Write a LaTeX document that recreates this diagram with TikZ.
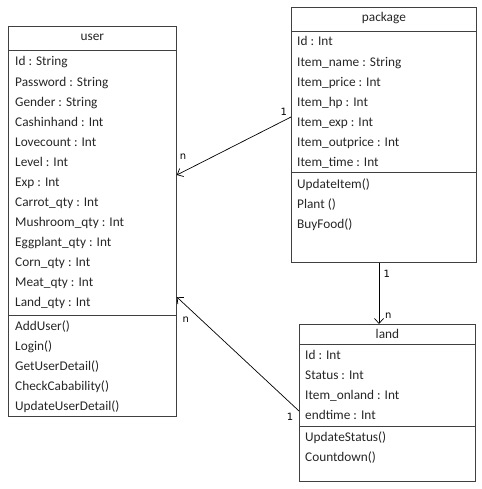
\documentclass[tikz,border=0pt]{standalone}
\usepackage{fontspec}
\setmainfont{Carlito}
\newfontfamily\multfont{DejaVu Sans}
\usetikzlibrary{arrows.meta}

\begin{document}
\begin{tikzpicture}[x=1pt, y=-1pt,
                    classbox/.style={draw=black!75, line width=.8pt, anchor=north west, inner sep=0},
                    classline/.style={draw=black!75, line width=.8pt},
                    member/.style={anchor=base west, inner sep=0, text=black!85, font=\fontsize{13.3}{16}\selectfont},
                    head/.style={anchor=base, inner sep=0, text=black!85, font=\fontsize{13.3}{16}\selectfont},
                    assoc/.style={-{Straight Barb[length=5pt, width=9pt]}, line width=.7pt},
                    mult/.style={inner sep=0, font=\multfont\fontsize{10}{12}\selectfont}
                    ]
    \useasboundingbox (0,0) rectangle (481,489);

    % user class
    \node[classbox, minimum width=168pt, minimum height=390pt] (user) at (8,26) {};
    \draw[classline] (user.west |- 0,50) -- (user.east |- 0,50);
    \draw[classline] (user.west |- 0,315) -- (user.east |- 0,315);
    \node[head] (user_name) at (user.north |- 0,41) {user};
    \foreach \t [count=\i] in {Id : String, Password : String, Gender : String,
        Cashinhand : Int, Lovecount : Int, Level : Int, Exp : Int, Carrot\_qty : Int,
        Mushroom\_qty : Int, Eggplant\_qty : Int, Corn\_qty : Int, Meat\_qty : Int,
        Land\_qty : Int}
        \node[member] (user_a\i) at (15, 66+20.08*\i-20.08) {\t};
    \foreach \t [count=\i] in {AddUser(), Login(), GetUserDetail(), CheckCabability(),
        UpdateUserDetail()}
        \node[member] (user_m\i) at (15, 330+20.2*\i-20.2) {\t};

    % package class
    \node[classbox, minimum width=185pt, minimum height=255pt] (package) at (291,7) {};
    \draw[classline] (package.west |- 0,31) -- (package.east |- 0,31);
    \draw[classline] (package.west |- 0,172) -- (package.east |- 0,172);
    \node[head] (package_name) at (package.north |- 0,22) {package};
    \foreach \t [count=\i] in {Id : Int, Item\_name : String, Item\_price : Int,
        Item\_hp : Int, Item\_exp : Int, Item\_outprice  : Int, Item\_time : Int}
        \node[member] (package_a\i) at (297, 46+20.1*\i-20.1) {\t};
    \foreach \t [count=\i] in {UpdateItem(), Plant (), BuyFood()}
        \node[member] (package_m\i) at (297, 188+20.2*\i-20.2) {\t};

    % land class
    \node[classbox, minimum width=176pt, minimum height=157pt] (land) at (299,324) {};
    \draw[classline] (land.west |- 0,344) -- (land.east |- 0,344);
    \draw[classline] (land.west |- 0,426) -- (land.east |- 0,426);
    \node[head] (land_name) at (land.north |- 0,338) {land};
    \foreach \t [count=\i] in {Id : Int, Status : Int, Item\_onland : Int, endtime : Int}
        \node[member] (land_a\i) at (305, 359+20.3*\i-20.3) {\t};
    \foreach \t [count=\i] in {UpdateStatus(), Countdown()}
        \node[member] (land_m\i) at (305, 441+20*\i-20) {\t};

    % associations
    \draw[assoc] (package.west |- 0,117) -- (user.east |- 0,175);
    \draw[assoc] (package.south -| 379,0) -- (land.north -| 379,0);
    \draw[assoc] (land.west |- 0,411) -- (user.east |- 0,297);

    \node[mult] (m_pu1) at (283.7,111.7) {1};
    \node[mult] (m_pun) at (183,157) {n};
    \node[mult] (m_pl1) at (386.7,274) {1};
    \node[mult] (m_pln) at (388.3,315.7) {n};
    \node[mult] (m_lun) at (185.7,320) {n};
    \node[mult] (m_lu1) at (290,416.7) {1};
\end{tikzpicture}
\end{document}
